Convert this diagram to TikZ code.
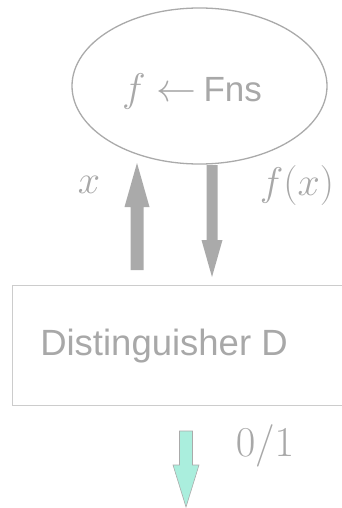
\RequirePackage{fix-cm}
\documentclass[tikz,border=0pt]{standalone}
\usepackage{fontspec}
\setsansfont{Liberation Sans}
\usetikzlibrary{shapes.geometric,calc}
\definecolor{txtgray}{HTML}{A8A8A8}
\definecolor{linegray}{HTML}{AAAAAA}
\definecolor{boxgray}{HTML}{CCCCCC}
\definecolor{mint}{HTML}{AAEEDD}
\tikzset{
  oracle/.style={draw=linegray, line width=1.3pt, ellipse, minimum width=255pt, minimum height=156pt, inner sep=0pt},
  dbox/.style={draw=boxgray, line width=0.9pt, rectangle, minimum width=330pt, minimum height=120pt, inner sep=0pt},
  grayarrow/.style={fill=linegray, draw=none},
  mintarrow/.style={fill=mint, draw=linegray, line width=0.6pt},
  lbl/.style={text=txtgray, inner sep=0pt, font=\fontsize{40}{48}\selectfont},
}
\begin{document}
\begin{tikzpicture}[x=1pt,y=-1pt]
\useasboundingbox (0,0) rectangle (341,508);
\node[oracle] (O) at (199.5,86) {};
\node[text=txtgray, inner sep=0pt, font=\fontsize{40}{48}\selectfont] (Ot) at (192,92) {$f\leftarrow$\,{\fontsize{35}{40}\selectfont\sffamily Fns}};
\node[dbox] (D) at (177,345) {};
\node[text=txtgray, inner sep=0pt, font=\fontsize{36.5}{44}\selectfont\sffamily] (Dt) at (164,346) {Distinguisher D};
% up arrow x
\coordinate (ub) at (137,270);
\coordinate (ut) at (137,163);
\fill[grayarrow] ($(ub)+(-6.5,0)$) -- ($(ub)+(-6.5,-63)$) -- ($(ub)+(-12.5,-63)$) -- (ut) -- ($(ub)+(12.5,-63)$) -- ($(ub)+(6.5,-63)$) -- ($(ub)+(6.5,0)$) -- cycle;
% down arrow f(x)
\coordinate (dt) at (212,165);
\coordinate (db) at (212,277);
\fill[grayarrow] ($(dt)+(-5.5,0)$) -- ($(dt)+(-5.5,75)$) -- ($(dt)+(-10.5,75)$) -- (db) -- ($(dt)+(10.5,75)$) -- ($(dt)+(5.5,75)$) -- ($(dt)+(5.5,0)$) -- cycle;
% output arrow
\coordinate (gt) at (186,431);
\coordinate (gb) at (186,507);
\draw[mintarrow] ($(gt)+(-6.5,0)$) -- ($(gt)+(-6.5,34)$) -- ($(gt)+(-13,34)$) -- (gb) -- ($(gt)+(13,34)$) -- ($(gt)+(6.5,34)$) -- ($(gt)+(6.5,0)$) -- cycle;
\node[lbl] (lx) at (89,185) {$x$};
\node[lbl] (lfx) at (297,185) {$f(x)$};
\node[lbl, font=\fontsize{42.5}{50}\selectfont] (l01) at (265,446) {$0/1$};
\end{tikzpicture}
\end{document}
